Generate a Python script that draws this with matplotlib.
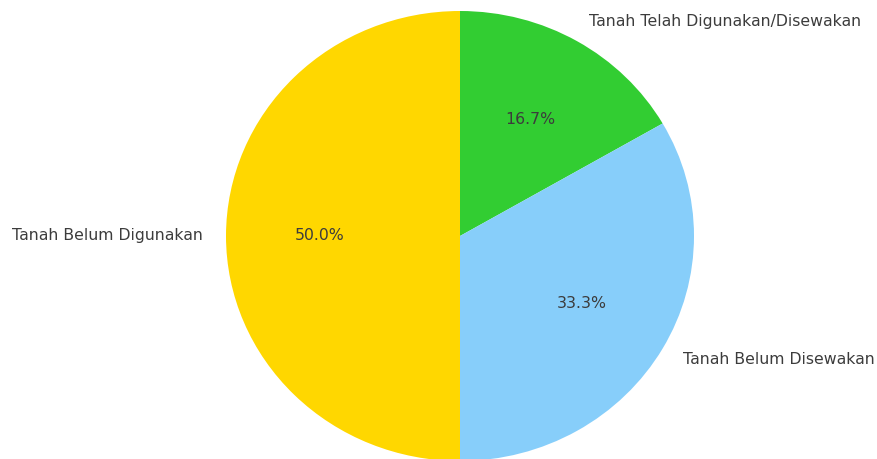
import matplotlib

matplotlib.use("Agg")
import matplotlib.pyplot as plt

labels = ["Tanah Telah Digunakan/Disewakan", "Tanah Belum Disewakan", "Tanah Belum Digunakan"]
values = [1, 2, 3]
colors = ["#32cd32", "#87cefa", "#ffd700"]

fig = plt.figure(figsize=(8.77, 4.59), dpi=100)
ax = fig.add_axes([0, 0, 1, 1])
ax.pie(
    values, labels=labels, colors=colors, autopct="%1.1f%%",
    startangle=90, counterclock=False,
    textprops={"fontsize": 11.3, "color": "#3c3c3c"},
)
# pie centre at (460, 236) px, radii 234 x 225 px
ax.set_aspect("auto")
ax.set_xlim(-460 / 234, (877 - 460) / 234)
ax.set_ylim((236 - 459) / 225, 236 / 225)
ax.axis("off")
fig.savefig("out.png", dpi=100)
